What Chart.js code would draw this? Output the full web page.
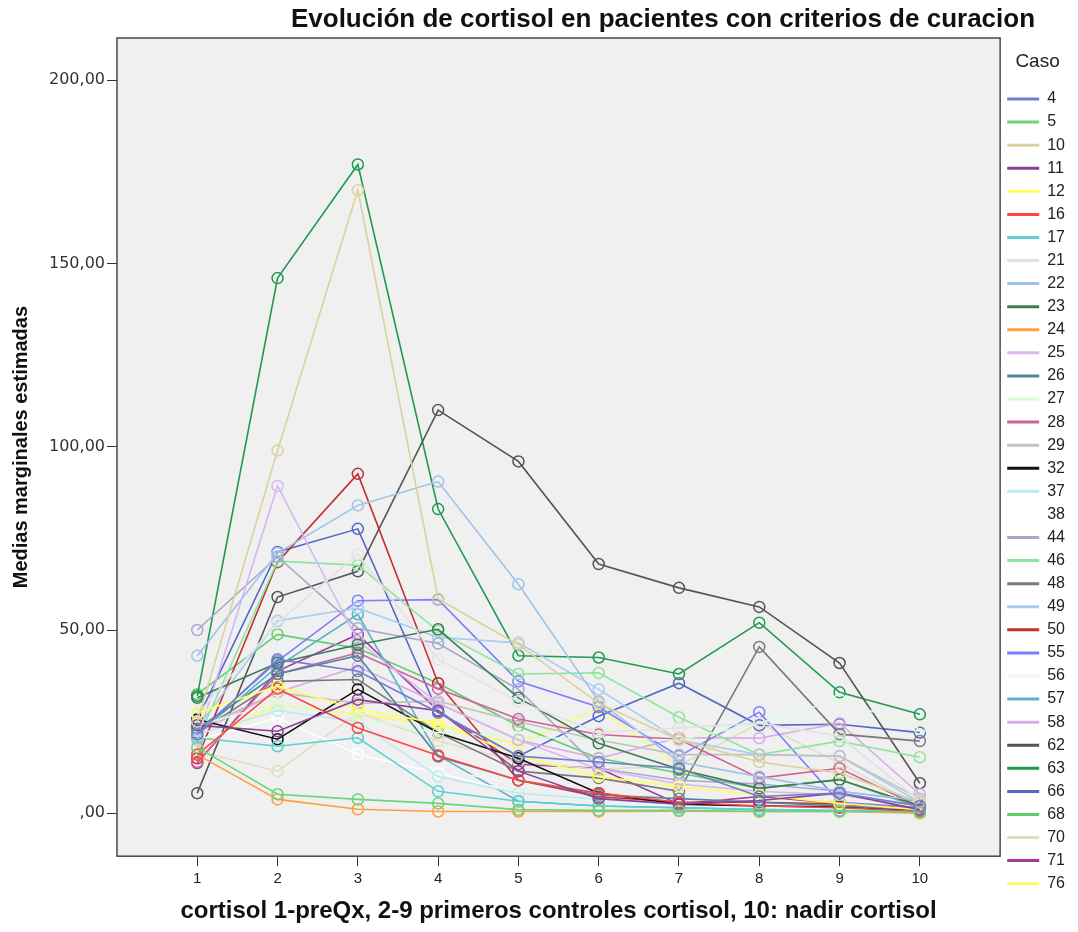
<!DOCTYPE html>
<html>
<head>
<meta charset="utf-8">
<title>Evolución de cortisol</title>
<script src="https://cdn.jsdelivr.net/npm/chart.js@4.4.1/dist/chart.umd.min.js"></script>
<style>
  html, body { margin: 0; padding: 0; background: #ffffff; }
  #wrap { width: 1078px; height: 932px; position: relative; }
</style>
</head>
<body>
<div id="wrap"><canvas id="cortisol-chart"></canvas></div>
<script>
// Control points on the x axis (1 = preQx, 2-9 controls, 10 = nadir)
const controls = [1, 2, 3, 4, 5, 6, 7, 8, 9, 10];
const yTicks = [0, 50, 100, 150, 200];

// Patient ids, in legend order
const cases = ['4', '5', '10', '11', '12', '16', '17', '21', '22', '23', '24', '25', '26', '27', '28', '29', '32',
               '37', '38', '44', '46', '48', '49', '50', '55', '56', '57', '58', '62', '63', '66', '68', '70', '71', '76'];

// Estimated marginal means per patient, one row per case (same order as cases)
const cortisol = [
  [21.5, 42, 38.8, 27.5, 15.6, 14, 12.3, 4.6, 5.5, 2],        // 4
  [18, 5.2, 3.8, 2.7, 1, 0.8, 0.8, 0.5, 0.5, 0.3],            // 5
  [25, 99, 170, 58.5, 46, 30, 20, 14, 11, 3],                 // 10
  [24, 22.4, 31, 28, 11.5, 4, 2.5, 3.5, 5.5, 1],              // 11
  [27.4, 34.7, 28.4, 24.6, 15.8, 10, 7.4, 5, 2.7, 1],         // 12
  [16, 34, 23.3, 15.8, 9, 5.5, 3, 2, 1.5, 0.5],               // 16
  [20.6, 18.3, 20.6, 6, 3.3, 2, 1.5, 1, 0.8, 0.5],            // 17
  [27, 52, 70.7, 42, 30.6, 22, 23.3, 24.6, 21, 3.3],          // 21
  [43, 71, 84, 90.5, 62.5, 30.5, 14, 10, 6, 3.5],             // 22
  [31.5, 41, 46, 50.2, 31.5, 19.1, 12, 6.8, 9.2, 2],          // 23
  [16, 3.8, 1.1, 0.5, 0.5, 0.5, 0.6, 0.5, 0.5, 0],            // 24
  [20, 89.3, 47, 30, 20, 12, 8, 6, 5, 2],                     // 25
  [23, 38, 43, 15.5, 9, 5, 4, 3, 2, 1],                       // 26
  [24, 30, 26, 22, 21, 20, 20, 24.6, 31.1, 23],               // 27
  [14, 38, 43.8, 34, 25.7, 21.5, 20.2, 9.6, 12.3, 1.8],       // 28
  [23, 33, 30, 30.6, 25, 20, 16, 16, 15.6, 4],                // 29
  [25.6, 20.2, 33.8, 22, 15, 5.5, 2.5, 2, 1.8, 0.8],          // 32
  [21.5, 28, 25, 10, 5.5, 3.8, 2.5, 2, 1.5, 1],               // 37
  [20, 26, 16.1, 11, 5.5, 3.8, 2.5, 1.9, 1, 0.5],             // 38
  [50, 70, 50.5, 46.3, 33.8, 12.3, 9, 8, 6, 3.3],             // 44
  [20, 68.8, 67.7, 49.7, 38, 38.3, 26.2, 16, 19.7, 15.3],     // 46
  [22, 36, 36.5, 22, 11.5, 9.6, 6, 45.4, 21.6, 19.7],         // 48
  [23.3, 52.5, 56, 48, 46.5, 33.8, 20, 16, 15.6, 3],          // 49
  [15, 68.5, 92.6, 35.5, 9, 4.5, 3, 3, 2.5, 1],               // 50
  [22, 41.5, 58, 58.3, 36, 29, 15.6, 27.6, 3, 1.6],           // 55
  [19, 24, 18, 12, 8, 5, 4, 3, 2, 1],                         // 56
  [21.5, 40, 54.3, 15.8, 3.3, 2, 1.5, 1, 0.8, 0.5],           // 57
  [22, 33, 40, 30, 20, 15, 20.6, 20.5, 24.6, 5.2],            // 58
  [5.5, 59, 66, 110, 96, 68, 61.5, 56.3, 41, 8.2],            // 62
  [32, 146, 177, 83, 43, 42.5, 38, 52, 33, 27],               // 63
  [25.5, 71.3, 77.6, 27.5, 15.6, 26.5, 35.5, 24, 24.3, 22],   // 66
  [32.5, 48.8, 45, 35.5, 23.8, 15, 11, 6.8, 9.2, 1.5],        // 68
  [17, 11.5, 27.4, 19.7, 14, 12, 13, 24.6, 13.7, 2],          // 70
  [13.7, 38.8, 48.8, 28, 13.4, 12.3, 2.5, 4.6, 2.7, 1.4],     // 71
  [18.8, 29.7, 27, 24, 18.8, 28.7, 12.8, 4.6, 2.7, 0.5]       // 76
];

// Line colour for each case
const caseColors = ['#6F7FCF', '#6CD47E', '#D9D39B', '#8E3F96', '#FFFF5C', '#FF4646', '#5CD0D0', '#E2E2E2',
  '#9EC3E8', '#3B7C57', '#FFA03C', '#D7B7F0', '#4E86A0', '#DAFBDA', '#D0609A', '#C2C2C2', '#111111',
  '#BDEAF0', '#FFFFFF', '#A7A7CF', '#8EE59E', '#7A7A7A', '#A7CDF2', '#C03232', '#7C7CFF', '#F4F4F4',
  '#5DB3C9', '#D6AEE6', '#555555', '#1F9A4F', '#5468C4', '#5FCF6E', '#E2DDBF', '#A1399F', '#FFF76A'];

const datasets = cases.map((id, i) => ({
  label: id,
  data: controls.map((c, j) => ({ x: c, y: cortisol[i][j] })),
  borderColor: caseColors[i],
  backgroundColor: 'rgba(0,0,0,0)',
  borderWidth: 1.6,
  pointRadius: 5.5,
  pointBorderWidth: 1.5,
  pointBorderColor: caseColors[i],
  pointBackgroundColor: 'rgba(0,0,0,0)',
  tension: 0
}));

// grey plot background and the frame round it, plus the chart title
const plotFrame = {
  id: 'plotFrame',
  beforeDatasetsDraw(chart) {
    const { ctx, chartArea: a } = chart;
    ctx.save();
    ctx.fillStyle = '#F0F0F0';
    ctx.fillRect(a.left, a.top, a.right - a.left, a.bottom - a.top);
    ctx.restore();
  },
  afterDraw(chart) {
    const { ctx, chartArea: a } = chart;
    ctx.save();
    ctx.strokeStyle = '#4a4a4a';
    ctx.lineWidth = 1.5;
    ctx.strokeRect(a.left, a.top, a.right - a.left, a.bottom - a.top);
    ctx.fillStyle = '#111';
    ctx.font = 'bold 26px "Liberation Sans", Arial, sans-serif';
    ctx.textAlign = 'center';
    ctx.textBaseline = 'middle';
    ctx.fillText('Evolución de cortisol en pacientes con criterios de curacion', 663, 20, 754);
    ctx.restore();
  }
};

new Chart(document.getElementById('cortisol-chart'), {
  type: 'line',
  data: { datasets: datasets },
  plugins: [plotFrame],
  options: {
    responsive: true,
    maintainAspectRatio: false,
    animation: false,
    layout: { padding: { top: 38, left: 0, right: 3, bottom: 4 } },
    scales: {
      x: {
        type: 'linear',
        min: 0,
        max: 11,
        afterBuildTicks: (axis) => { axis.ticks = controls.map(v => ({ value: v })); },
        grid: { drawOnChartArea: false, drawTicks: true, tickLength: 10, color: '#333' },
        border: { display: false },
        ticks: {
          padding: 4,
          color: '#222',
          font: { family: '"Liberation Sans", Arial, sans-serif', size: 15 },
          maxRotation: 0
        },
        title: {
          display: true,
          text: 'cortisol 1-preQx, 2-9 primeros controles cortisol, 10: nadir cortisol',
          color: '#111',
          font: { family: '"Liberation Sans", Arial, sans-serif', size: 24, weight: 'bold' },
          padding: { top: 5, bottom: 2 }
        }
      },
      y: {
        type: 'linear',
        min: -11.7,
        max: 211.5,
        afterBuildTicks: (axis) => { axis.ticks = yTicks.map(v => ({ value: v })); },
        grid: { drawOnChartArea: false, drawTicks: true, tickLength: 10, color: '#333' },
        border: { display: false },
        ticks: {
          padding: 2,
          color: '#333',
          font: { family: '"DejaVu Sans", sans-serif', size: 16 },
          callback: (v) => v === 0 ? ',00' : v.toFixed(2).replace('.', ',')
        },
        title: {
          display: true,
          text: 'Medias marginales estimadas',
          color: '#111',
          font: { family: '"Liberation Sans", Arial, sans-serif', size: 20, weight: 'bold' },
          padding: { top: 9, bottom: 14 }
        }
      }
    },
    plugins: {
      tooltip: { enabled: false },
      legend: {
        position: 'right',
        align: 'start',
        maxWidth: 78,
        title: {
          display: true,
          text: 'Caso',
          color: '#222',
          font: { family: '"Liberation Sans", Arial, sans-serif', size: 19 },
          padding: { top: 14.5, bottom: 8.6 }
        },
        labels: {
          usePointStyle: true,
          pointStyle: 'line',
          pointStyleWidth: 32,
          padding: 7.08,
          color: '#222',
          font: { family: '"Liberation Sans", Arial, sans-serif', size: 16 },
          generateLabels(chart) {
            return Chart.defaults.plugins.legend.labels.generateLabels(chart).map(item => {
              item.lineWidth = 3;
              return item;
            });
          }
        }
      }
    }
  }
});
</script>
</body>
</html>
